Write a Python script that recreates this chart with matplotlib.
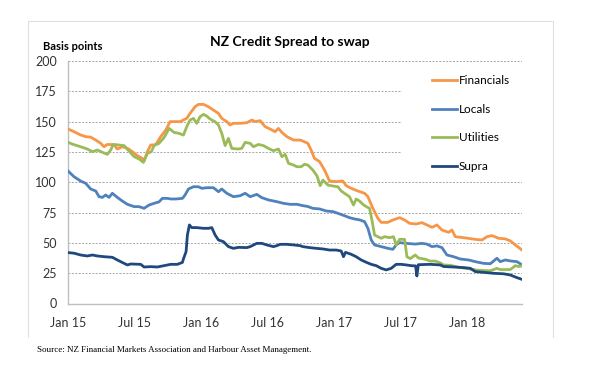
import matplotlib
matplotlib.use("Agg")
import matplotlib.pyplot as plt
from matplotlib.patches import Rectangle
from matplotlib.lines import Line2D

plt.rcParams['font.family'] = ['Lato', 'DejaVu Sans']

# months since Jan 2015 and spread in basis points
fin_t = [0, 0.54, 1.14, 1.6, 2.05, 2.5, 2.95, 3.25, 3.55, 4.15, 4.45, 4.9, 5.36, 5.81, 6.26, 6.71,
         6.86, 7.16, 7.46, 7.91, 8.36, 8.82, 9.21, 9.87, 10.11, 10.71, 11.01, 11.46, 11.76, 12.22,
         12.67, 13.12, 13.57, 13.87, 14.32, 14.62, 14.92, 15.53, 16.13, 16.58, 16.88, 17.33, 17.78,
         18.23, 18.68, 18.98, 19.29, 19.74, 20.34, 20.94, 21.18, 21.63, 21.93, 22.23, 22.69, 23.14,
         23.59, 24.19, 24.79, 25.09, 25.54, 26.14, 26.75, 27.05, 27.5, 27.95, 28.25, 28.85, 29.3,
         29.91, 30.36, 30.81, 31.41, 31.92, 32.37, 32.83, 33.28, 33.73, 34.33, 34.63, 34.93, 35.68,
         36.74, 37.34, 37.79, 38.24, 38.84, 39.44, 39.9, 40.35, 40.95]
fin_v = [143.9, 141.7, 139, 137.6, 137.2, 134.8, 132.1, 129.3, 131.2, 131, 127.4, 129.3, 128, 125.2,
         121.9, 119.7, 117.5, 125.2, 130.7, 131, 137.6, 143.1, 150, 150, 150, 152.7, 156.8, 162.3,
         164.2, 164.2, 162.3, 159.5, 156.8, 152.7, 150, 147.2, 148.6, 148.6, 149.1, 151.3, 150, 150.8,
         145.8, 143.9, 141.7, 144.4, 141.1, 137.6, 134.8, 134.8, 134, 132.1, 126.6, 119.7, 117, 110.1,
         101, 100.5, 101, 97.2, 95, 92.8, 90.9, 88.1, 78.5, 70.2, 66.9, 66.9, 68.9, 70.8, 68.9, 66.1,
         65.6, 66.7, 64.8, 62.8, 64.8, 60.6, 58.7, 60.6, 55.1, 54.3, 52.9, 52.4, 55.1, 56, 53.8, 53.3,
         51.6, 48.3, 44.1]

loc_t = [0, 0.54, 1.14, 1.6, 2.05, 2.5, 2.8, 3.1, 3.4, 3.7, 4.0, 4.45, 4.9, 5.36, 5.96, 6.41, 6.86,
         7.31, 7.76, 8.21, 8.51, 8.97, 9.27, 9.72, 10.32, 10.56, 10.86, 11.31, 11.76, 12.07, 12.52,
         13.12, 13.57, 13.87, 14.32, 14.92, 15.53, 15.98, 16.43, 17.03, 17.48, 18.08, 18.83, 19.44,
         20.04, 20.64, 21.18, 21.63, 22.08, 22.69, 23.29, 23.89, 24.34, 24.94, 25.39, 25.84, 26.29,
         26.75, 27.05, 27.35, 27.65, 28.25, 28.85, 29.3, 29.6, 29.91, 30.51, 31.32, 31.92, 32.37,
         32.83, 33.28, 33.73, 34.18, 34.78, 35.38, 36.14, 36.74, 37.49, 38.09, 38.69, 38.99, 39.44,
         39.9, 40.5, 40.95]
loc_v = [109.3, 104.6, 101, 99.1, 94.4, 92.8, 88.1, 87.5, 89.5, 87.5, 90.9, 87.5, 84.5, 81.8, 79.9,
         79.9, 78.5, 81.2, 82.6, 83.8, 86.7, 86.7, 86.2, 86.2, 86.7, 89.5, 94.4, 96.3, 96.3, 95, 95.5,
         95.5, 92.2, 94.4, 90.9, 88.1, 88.9, 90.9, 88.1, 90, 87.3, 85.4, 84, 82.6, 81.8, 81.8, 80.7, 80,
         78.5, 78, 76.3, 75.8, 74.4, 72.4, 70.8, 69.7, 69, 67.5, 62, 52.4, 48.3, 46.9, 45.5, 44.7, 48.3,
         50.2, 49.6, 49, 49.6, 49, 46.9, 47.5, 46.1, 40, 38.6, 36.7, 35.9, 34.5, 33.1, 32.8, 37.3, 34.5,
         35.9, 35.1, 34.5, 31.8]

utl_t = [0, 0.54, 1.14, 1.74, 2.2, 2.65, 3.1, 3.55, 3.85, 4.09, 4.6, 5.06, 5.51, 5.96, 6.41, 6.8,
         7.16, 7.52, 7.76, 8.21, 8.66, 9.12, 9.57, 10.02, 10.41, 10.71, 11.01, 11.31, 11.61, 11.91,
         12.22, 12.52, 12.82, 13.27, 13.57, 13.87, 14.17, 14.47, 14.77, 15.38, 15.68, 15.98, 16.43,
         16.73, 17.18, 17.63, 18.08, 18.53, 18.98, 19.29, 19.59, 19.89, 20.34, 20.64, 21.03, 21.33,
         21.63, 22.08, 22.45, 22.75, 22.99, 23.44, 23.89, 24.34, 24.64, 24.94, 25.39, 25.75, 25.99,
         26.29, 26.6, 26.9, 27.2, 27.44, 27.65, 27.95, 28.25, 28.55, 29.0, 29.36, 29.6, 29.91, 30.36,
         30.57, 30.87, 31.32, 31.62, 32.22, 32.67, 33.13, 33.58, 33.88, 34.48, 35.38, 35.98, 36.89,
         38.09, 38.69, 38.99, 39.9, 40.35, 40.65, 40.95]
utl_v = [132.9, 131, 129.3, 127.4, 125.2, 126.6, 124.7, 123, 126.6, 131.2, 130.7, 130.2, 125.7, 121.1,
         119.2, 116.4, 123.8, 125.2, 130.2, 132.1, 136.8, 144.4, 141.1, 140.3, 138.9, 145.8, 151.3,
         152.7, 148.6, 154, 156, 154.5, 152.1, 149.9, 147.2, 140.3, 130.2, 136.2, 127.9, 127.4, 128,
         132.9, 132.1, 129.3, 131.2, 130.2, 127.9, 126, 127.4, 121.1, 123, 115.6, 114.2, 112.8, 112.8,
         114.8, 114.2, 110.1, 105.4, 97.2, 101.8, 97.7, 96.9, 96.3, 92.8, 90.9, 88.1, 81.2, 86.2, 84.5,
         81.8, 79.9, 78.5, 67.5, 56.5, 55.1, 53.8, 55.1, 54.3, 55.1, 48.3, 52.9, 52.9, 38.6, 37, 40,
         37.5, 36.5, 35, 35, 33.5, 31.8, 31.5, 29.6, 29, 27.5, 27, 29, 28, 28, 31.2, 30.5, 31]

sup_t = [0, 0.54, 1.14, 1.74, 2.2, 2.65, 3.25, 4.0, 4.45, 5.06, 5.36, 5.66, 6.56, 6.86, 7.46, 8.06,
         8.66, 9.27, 9.87, 10.32, 10.41, 10.65, 10.77, 10.95, 11.16, 11.61, 12.22, 12.67, 12.97, 13.27,
         13.57, 14.02, 14.47, 14.92, 15.38, 16.13, 16.43, 17.03, 17.48, 17.93, 18.53, 18.83, 19.14,
         19.74, 20.34, 20.94, 21.18, 21.78, 22.39, 22.99, 23.59, 24.19, 24.64, 24.85, 25.03, 25.54,
         25.99, 26.45, 26.9, 27.35, 27.8, 28.25, 28.7, 29.15, 29.6, 30.06, 30.51, 30.96, 31.35, 31.47,
         31.6, 32.67, 33.58, 33.88, 34.78, 35.68, 36.29, 36.74, 37.49, 38.39, 39.29, 39.9, 40.5, 40.95]
sup_v = [42, 41.5, 40, 39.2, 40, 39.2, 38.6, 38.1, 35.9, 33.1, 31.8, 32.6, 32.3, 30.1, 30.4, 30.1,
         31.2, 32.3, 32.3, 33.9, 36.7, 42.8, 56.5, 64.8, 62.6, 62.6, 62, 62, 62.6, 56.5, 52.4, 51, 46.9,
         45.5, 46.3, 46.1, 46.9, 49.6, 49.6, 48.3, 46.9, 47.7, 48.8, 48.8, 48.3, 47.7, 46.9, 46.1, 45.5,
         45, 44.1, 44.1, 43.3, 38.6, 42.2, 40.6, 38.6, 35.9, 34, 32.3, 31.2, 29, 27.7, 29, 32.3, 32.3,
         31.8, 31.2, 31, 22.7, 32, 32.3, 31.8, 30.5, 30.1, 29.6, 29, 26.3, 25.7, 24.9, 24.5, 23.5, 21.3,
         19.9]

tick_pos = [0, 6, 12, 18, 24, 30, 36]
tick_lab = ['Jan 15', 'Jul 15', 'Jan 16', 'Jul 16', 'Jan 17', 'Jul 17', 'Jan 18']

fig = plt.figure(figsize=(6, 3.72), dpi=100)
ax = fig.add_axes([68/600, 1-303.5/372, 454/600, 242.5/372])

ax.plot(fin_t, fin_v, color='#F79646', lw=2.0, label='Financials', zorder=3)
ax.plot(loc_t, loc_v, color='#4F81BD', lw=2.0, label='Locals', zorder=3)
ax.plot(utl_t, utl_v, color='#9BBB59', lw=2.0, label='Utilities', zorder=3)
ax.plot(sup_t, sup_v, color='#1F497D', lw=2.0, label='Supra', zorder=3)

ax.set_xlim(0, 40.95)
ax.set_ylim(0, 200)
ax.set_yticks(range(0, 201, 25))
ax.set_xticks(tick_pos)
ax.set_xticklabels(tick_lab)
ax.tick_params(length=0, labelsize=9, colors='#333333')
ax.tick_params(axis='y', pad=8)
ax.tick_params(axis='x', pad=10)
ax.yaxis.grid(True, ls=(0, (2, 1.5)), color='#A6A6A6', lw=0.7)
ax.set_axisbelow(True)
for s in ['top', 'right']:
    ax.spines[s].set_visible(False)
for s in ['left', 'bottom']:
    ax.spines[s].set_color('#BFBFBF')
    ax.spines[s].set_linewidth(1.0)

# white box behind legend hides the grid there
ax.add_patch(Rectangle((402, 372-172), 120, 102, transform=None, facecolor='white',
                       edgecolor='none', zorder=1.5))
leg = ax.legend(loc='upper left', bbox_to_anchor=(432/600, 1-75/372), bbox_transform=fig.transFigure,
                frameon=False, fontsize=8.5, handlelength=2.1, handletextpad=0.15,
                labelspacing=1.5, borderpad=0, borderaxespad=0)

fig.text(290/600, 1-42/372, 'NZ Credit Spread to swap', ha='center', va='center',
         fontsize=10, fontweight='bold')
fig.text(43/600, 1-47/372, 'Basis points', ha='left', va='center', fontsize=8, fontweight='bold')
fig.text(37/600, 1-350/372, 'Source: NZ Financial Markets Association and Harbour Asset Management.',
         ha='left', va='center', fontsize=6.5, family=['Liberation Serif', 'DejaVu Serif'])

# light outer chart border (open at the bottom)
bx = [28, 28, 553, 553]
by = [337, 21, 21, 337]
fig.add_artist(Line2D([x/600 for x in bx], [1-y/372 for y in by], color='#E0E0E0', lw=0.8))

fig.savefig('out.png', dpi=100)
